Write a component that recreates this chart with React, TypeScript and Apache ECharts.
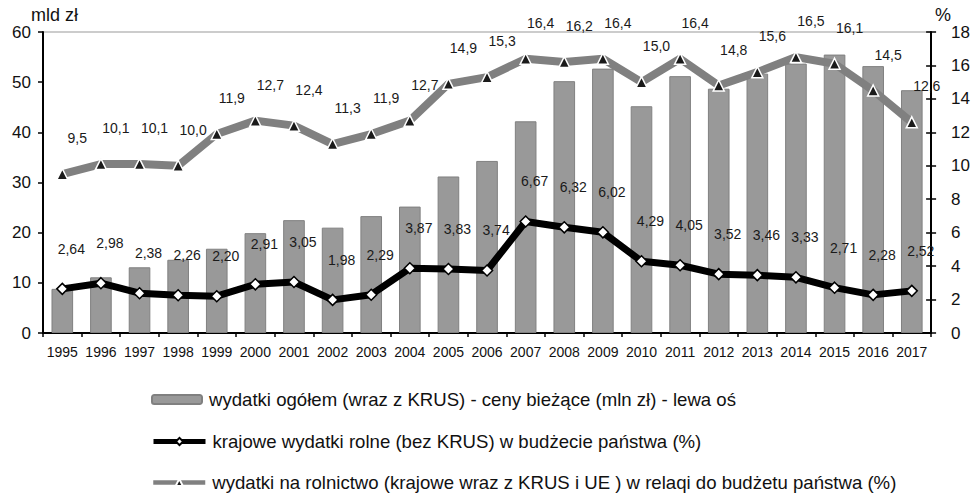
import React, { useEffect, useRef } from "react";
import * as echarts from "echarts";

const years = ["1995","1996","1997","1998","1999","2000","2001","2002","2003","2004","2005","2006","2007","2008","2009","2010","2011","2012","2013","2014","2015","2016","2017"];
const totalSpending = [8.8,11.1,13.1,14.6,16.8,19.9,22.5,21.0,23.3,25.2,31.2,34.3,42.2,50.2,52.7,45.2,51.2,48.7,51.7,53.7,55.5,53.2,48.4];
const domesticShare = [2.64,2.98,2.38,2.26,2.20,2.91,3.05,1.98,2.29,3.87,3.83,3.74,6.67,6.32,6.02,4.29,4.05,3.52,3.46,3.33,2.71,2.28,2.52];
const agriShare = [9.5,10.1,10.1,10.0,11.9,12.7,12.4,11.3,11.9,12.7,14.9,15.3,16.4,16.2,16.4,15.0,16.4,14.8,15.6,16.5,16.1,14.5,12.6];

const nameBars = "wydatki ogółem (wraz z KRUS) - ceny bieżące (mln zł) - lewa oś";
const nameDomestic = "krajowe wydatki rolne (bez KRUS) w budżecie państwa (%)";
const nameAgri = "wydatki na rolnictwo (krajowe wraz z KRUS i UE ) w relaqi do budżetu państwa (%)";

const FONT = "'Liberation Sans', Arial, sans-serif";

export default function App() {
  const ref = useRef<HTMLDivElement>(null);
  useEffect(() => {
    if (!ref.current) return;
    const chart = echarts.init(ref.current, undefined, { renderer: "svg" });
    const legendBase = {
      orient: "horizontal",
      left: 151,
      padding: 0,
      itemGap: 0,
      selectedMode: false,
      textStyle: { fontFamily: FONT, fontSize: 18.6, color: "#111", padding: [0, 0, 0, 2] },
    };
    chart.setOption({
      animation: false,
      textStyle: { fontFamily: FONT },
      grid: { left: 43, right: 40, top: 32, bottom: 163, show: true, borderColor: "#999", borderWidth: 1 },
      legend: [
        { ...legendBase, top: 390, data: [nameBars], itemWidth: 50, itemHeight: 9 },
        { ...legendBase, top: 432, data: [nameDomestic], itemWidth: 52, itemHeight: 9, lineStyle: { width: 5 } },
        { ...legendBase, top: 473, data: [nameAgri], itemWidth: 52, itemHeight: 9, lineStyle: { width: 4.5 } },
      ],
      xAxis: {
        type: "category",
        data: years,
        boundaryGap: true,
        axisLine: { lineStyle: { color: "#000", width: 2 } },
        axisTick: { show: true, length: 4, lineStyle: { color: "#000", width: 1.5 } },
        axisLabel: { color: "#111", fontSize: 14, fontFamily: FONT, margin: 12, interval: 0 },
      },
      yAxis: [
        {
          type: "value",
          min: 0,
          max: 60,
          interval: 10,
          position: "left",
          name: "mld zł",
          nameLocation: "end",
          nameGap: 2,
          nameTextStyle: { fontFamily: FONT, fontSize: 18, color: "#111", align: "left", padding: [0, 0, 0, -12] },
          axisLine: { show: true, lineStyle: { color: "#000", width: 2 } },
          axisTick: { show: true, length: 5, lineStyle: { color: "#000", width: 1.5 } },
          axisLabel: { color: "#111", fontSize: 17, fontFamily: FONT, margin: 12 },
          splitLine: { show: false },
        },
        {
          type: "value",
          min: 0,
          max: 18,
          interval: 2,
          position: "right",
          name: "%",
          nameLocation: "end",
          nameGap: 6,
          nameTextStyle: { fontFamily: FONT, fontSize: 18, color: "#111", align: "left", padding: [0, 0, 0, 4] },
          axisLine: { show: true, lineStyle: { color: "#000", width: 2 } },
          axisTick: { show: true, length: 5, lineStyle: { color: "#000", width: 1.5 } },
          axisLabel: { color: "#111", fontSize: 17, fontFamily: FONT, margin: 20 },
          splitLine: { show: false },
        },
        {
          type: "value",
          min: 0,
          max: 18,
          interval: 2,
          position: "right",
          axisLine: { show: false },
          axisTick: { show: true, inside: true, length: 5, lineStyle: { color: "#000", width: 1.5 } },
          axisLabel: { show: false },
          splitLine: { show: false },
        },
      ],
      series: [
        {
          name: nameBars,
          type: "bar",
          yAxisIndex: 0,
          data: totalSpending,
          barWidth: "56%",
          itemStyle: { color: "#999999", borderColor: "#808080", borderWidth: 1 },
          z: 1,
        },
        {
          name: nameAgri,
          type: "line",
          yAxisIndex: 1,
          data: agriShare,
          lineStyle: { color: "#808080", width: 8 },
          itemStyle: { color: "#1a1a1a", borderColor: "#fff", borderWidth: 1.5 },
          symbol: "triangle",
          symbolSize: 11,
          z: 3,
          label: {
            show: true,
            position: "inside",
            offset: [15, -36],
            color: "#1a1a1a",
            fontSize: 14,
            fontFamily: FONT,
            formatter: (p: any) => Number(p.value).toFixed(1).replace(".", ","),
          },
        },
        {
          name: nameDomestic,
          type: "line",
          yAxisIndex: 1,
          data: domesticShare,
          lineStyle: { color: "#000", width: 7 },
          itemStyle: { color: "#fff", borderColor: "#000", borderWidth: 1.5 },
          symbol: "diamond",
          symbolSize: 11,
          z: 4,
          label: {
            show: true,
            position: "inside",
            offset: [9, -40],
            color: "#1a1a1a",
            fontSize: 14,
            fontFamily: FONT,
            formatter: (p: any) => Number(p.value).toFixed(2).replace(".", ","),
          },
        },
      ],
    });
    return () => chart.dispose();
  }, []);
  return <div ref={ref} style={{ width: 973, height: 496, position: "absolute", left: 0, top: 0, background: "#fff" }} />;
}
